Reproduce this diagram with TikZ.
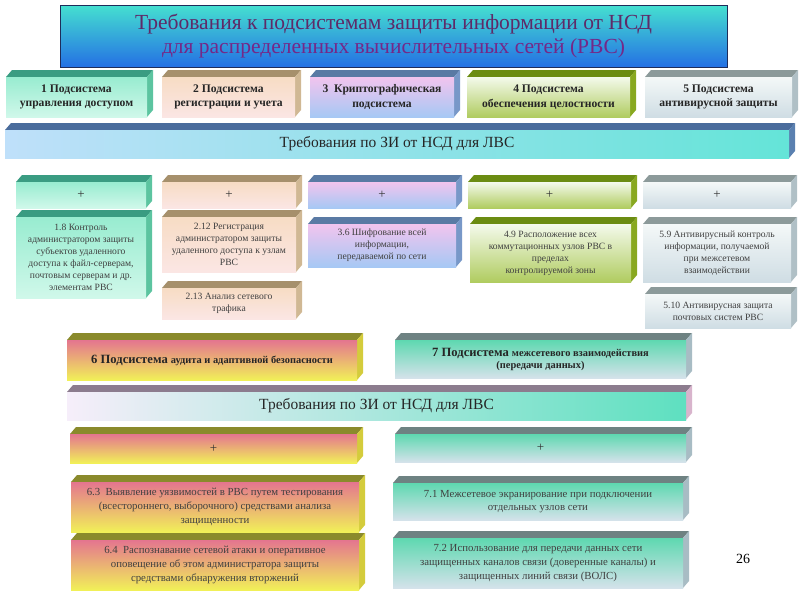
\documentclass[tikz,border=0pt]{standalone}
\usepackage{fontspec}
\setmainfont{Liberation Serif}
\definecolor{ttl}{HTML}{5E2A68}
\definecolor{ttlb}{HTML}{742888}
\definecolor{tA}{HTML}{45E0D0}\definecolor{tB}{HTML}{34B4E4}\definecolor{tC}{HTML}{2470E4}
\definecolor{aT}{HTML}{3A9C82}\definecolor{aS}{HTML}{5CC4A0}\definecolor{aF1}{HTML}{98ECD0}\definecolor{aF2}{HTML}{6EDCB8}\definecolor{aF3}{HTML}{D0F8EA}
\definecolor{bT}{HTML}{A6906C}\definecolor{bS}{HTML}{D0B894}\definecolor{bF1}{HTML}{F7DCC4}\definecolor{bF3}{HTML}{FBE6E4}
\definecolor{cT}{HTML}{5A7AA4}\definecolor{cS}{HTML}{7898C8}\definecolor{cF1}{HTML}{F2C4EE}\definecolor{cF3}{HTML}{A6C8F4}
\definecolor{dT}{HTML}{6B8C12}\definecolor{dS}{HTML}{88A820}\definecolor{dF1}{HTML}{F4FAEC}\definecolor{dF3}{HTML}{B0CC60}
\definecolor{eT}{HTML}{8C9A9A}\definecolor{eS}{HTML}{B0C0C6}\definecolor{eF1}{HTML}{F4F8F8}\definecolor{eF3}{HTML}{CFDDE4}
\definecolor{lT}{HTML}{4A6C9C}\definecolor{lS}{HTML}{5A80B0}\definecolor{lF1}{HTML}{BFE0FA}\definecolor{lF3}{HTML}{64E4D8}
\definecolor{fT}{HTML}{8A8A2C}\definecolor{fS}{HTML}{D4CC3C}\definecolor{fF1}{HTML}{E4758F}\definecolor{fF3}{HTML}{F1F058}
\definecolor{gT}{HTML}{6E8282}\definecolor{gS}{HTML}{A8BCC4}\definecolor{gF1}{HTML}{5ED8B0}\definecolor{gF3}{HTML}{D4E2EA}
\definecolor{mT}{HTML}{8C7C8E}\definecolor{mS}{HTML}{D8B4CC}\definecolor{mF1}{HTML}{F6EEFA}\definecolor{mF3}{HTML}{5EE0C0}
\definecolor{tline}{HTML}{1E2C5A}
\begin{document}
\begin{tikzpicture}[x=1pt,y=-1pt,
  face/.style={inner sep=0pt, outer sep=0pt, align=center, anchor=center},
  hd/.style={font=\bfseries\fontsize{11.6}{14.5}\selectfont, text=black!85},
  plus/.style={font=\fontsize{13}{14}\selectfont, text=black!80},
  ct/.style={font=\fontsize{9.6}{12}\selectfont, text=black!75},
  ctb/.style={font=\fontsize{10.8}{13.6}\selectfont, text=black!75},
  band/.style={font=\fontsize{15.5}{18}\selectfont, text=black!85},
  sA/.style={top color=aF1,middle color=aF2,bottom color=aF3},
  sB/.style={top color=bF1,bottom color=bF3},
  sC/.style={top color=cF1,bottom color=cF3},
  sD/.style={top color=dF1,bottom color=dF3},
  sE/.style={top color=eF1,bottom color=eF3},
  sF/.style={top color=fF1,bottom color=fF3},
  sG/.style={top color=gF1,bottom color=gF3}]
\newcommand\tdbox[9]{%
  \fill[#6] (#2,#3+7) -- (#2+6,#3) -- (#4,#3) -- (#4-6,#3+7) -- cycle;
  \fill[#7] (#4-6,#3+7) -- (#4,#3) -- (#4,#5-7) -- (#4-6,#5) -- cycle;
  \node[face,#8,minimum width={(#4-6-#2)*1pt},minimum height={(#5-#3-7)*1pt}]
    (#1) at ({(#2+#4-6)/2},{(#3+7+#5)/2}) {#9};}
\useasboundingbox (0,0) rectangle (800,600);
\fill[white] (0,0) rectangle (800,600);
% title
\node[face,draw=tline,line width=0.8pt,top color=tA,middle color=tB,bottom color=tC,
  minimum width=667pt,minimum height=62pt,font=\fontsize{21.5}{24}\selectfont] (title) at (393.5,36)
  {\textcolor{ttl}{Требования к подсистемам защиты информации от НСД}\\\textcolor{ttlb}{для распределенных вычислительных сетей (РВС)}};
% row 1 headings
\tdbox{h1}{6}{70}{153}{117}{aT}{aS}{hd,sA}{1 Подсистема\\управления доступом}
\tdbox{h2}{162}{70}{301}{117}{bT}{bS}{hd,sB}{2 Подсистема\\регистрации и учета}
\tdbox{h3}{310}{70}{460}{117}{cT}{cS}{hd,sC}{3\ \ Криптографическая\\подсистема}
\tdbox{h4}{467}{70}{636}{117}{dT}{dS}{hd,sD}{4 Подсистема\\обеспечения целостности}
\tdbox{h5}{645}{70}{798}{117}{eT}{eS}{hd,sE}{5 Подсистема\\антивирусной защиты}
% band 1
\tdbox{lvs1}{5}{123}{795}{158}{lT}{lS}{band,left color=lF1,right color=lF3}{Требования по ЗИ от НСД для ЛВС}
% plus row
\tdbox{p1}{16}{175}{152}{208}{aT}{aS}{plus,sA}{+}
\tdbox{p2}{162}{175}{302}{208}{bT}{bS}{plus,sB}{+}
\tdbox{p3}{308}{175}{462}{208}{cT}{cS}{plus,sC}{+}
\tdbox{p4}{468}{175}{637}{208}{dT}{dS}{plus,sD}{+}
\tdbox{p5}{643}{175}{797}{208}{eT}{eS}{plus,sE}{+}
% content row 1
\tdbox{r18}{16}{210}{152}{298}{aT}{aS}{ct,sA}{1.8 Контроль\\администратором защиты\\субъектов удаленного\\доступа к файл-серверам,\\почтовым серверам и др.\\элементам РВС}
\tdbox{r212}{162}{210}{302}{272}{bT}{bS}{ct,sB}{2.12 Регистрация\\администратором защиты\\удаленного доступа к узлам\\РВС}
\tdbox{r213}{162}{281}{302}{319}{bT}{bS}{ct,sB}{2.13 Анализ сетевого\\трафика}
\tdbox{r36}{308}{217}{462}{267}{cT}{cS}{ct,sC}{3.6 Шифрование всей\\информации,\\передаваемой по сети}
\tdbox{r49}{470}{217}{637}{282}{dT}{dS}{ct,sD}{4.9 Расположение всех\\коммутационных узлов РВС в\\пределах\\контролируемой зоны}
\tdbox{r59}{643}{217}{797}{282}{eT}{eS}{ct,sE}{5.9 Антивирусный контроль\\информации, получаемой\\при межсетевом\\взаимодействии}
\tdbox{r510}{645}{287}{797}{328}{eT}{eS}{ct,sE}{5.10 Антивирусная защита\\почтовых систем РВС}
% subsystems 6 and 7
\tdbox{h6}{67}{333}{363}{380}{fT}{fS}{text=black!85,sF}{\bfseries\fontsize{12.6}{15}\selectfont 6 Подсистема \fontsize{10.4}{15}\selectfont аудита и адаптивной безопасности}
\tdbox{h7}{395}{333}{692}{378}{gT}{gS}{text=black!85,sG}{\bfseries\fontsize{12.6}{15}\selectfont 7 Подсистема \fontsize{10.4}{15}\selectfont межсетевого взаимодействия\\\bfseries\fontsize{10.4}{14}\selectfont (передачи данных)}
% band 2
\tdbox{lvs2}{67}{385}{692}{420}{mT}{mS}{band,left color=mF1,right color=mF3}{Требования по ЗИ от НСД для ЛВС}
% plus row 2
\tdbox{p6}{70}{427}{363}{463}{fT}{fS}{plus,sF}{+}
\tdbox{p7}{395}{427}{692}{462}{gT}{gS}{plus,sG}{+}
% content row 2
\tdbox{r63}{71}{475}{365}{532}{fT}{fS}{ctb,sF}{6.3\ \ Выявление уязвимостей в РВС путем тестирования\\(всестороннего, выборочного) средствами анализа\\защищенности}
\tdbox{r64}{71}{533}{365}{590}{fT}{fS}{ctb,sF}{6.4\ \ Распознавание сетевой атаки и оперативное\\оповещение об этом администратора защиты\\средствами обнаружения вторжений}
\tdbox{r71}{393}{476}{689}{520}{gT}{gS}{ctb,sG}{7.1 Межсетевое экранирование при подключении\\отдельных узлов сети}
\tdbox{r72}{393}{531}{689}{588}{gT}{gS}{ctb,sG}{7.2 Использование для передачи данных сети\\защищенных каналов связи (доверенные каналы) и\\защищенных линий связи (ВОЛС)}
\node[font=\fontsize{14}{16}\selectfont] (pg) at (743,559) {26};
\end{tikzpicture}
\end{document}
